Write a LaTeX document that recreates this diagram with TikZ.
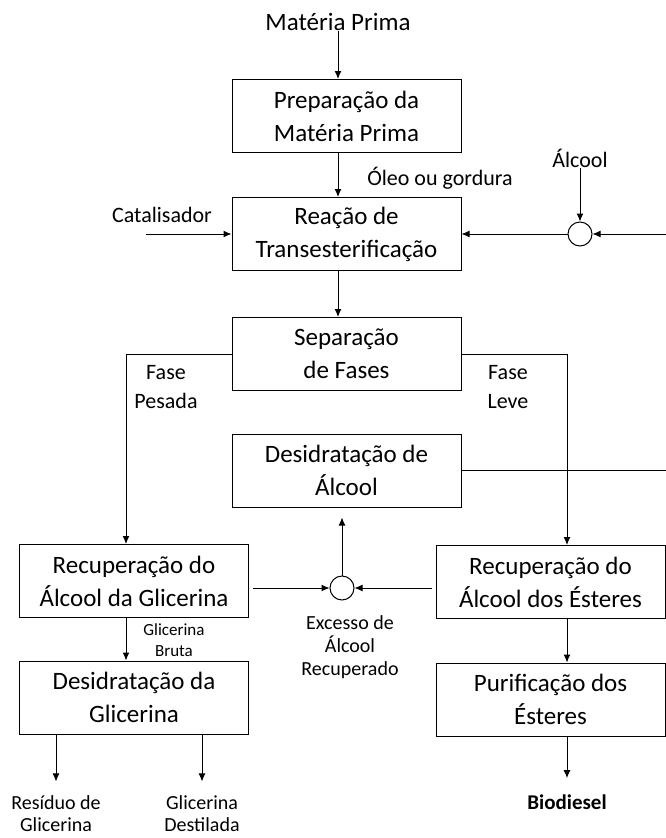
\documentclass[tikz,border=0pt]{standalone}
\usepackage{fontspec}
\setmainfont{Carlito}
\usetikzlibrary{positioning,arrows.meta}
\tikzset{
	>={Latex[length=8pt,width=7pt]}
}

\begin{document}
\begin{tikzpicture}[
	x = 1pt, y = -1pt,
	line width = 1pt,
	every node/.style = {
		font = \fontsize{22}{27}\selectfont,
		align = center,
		inner sep = 0pt
	},
	process/.style = {
		draw,
		font = \fontsize{25}{33}\selectfont,
		minimum width = 229pt,
		minimum height = 73pt
	},
	mixer/.style = {
		draw,
		circle,
		minimum size = 24pt
	},
	tiny/.style = {
		font = \fontsize{17}{21}\selectfont
	},
	product/.style = {
		font = \fontsize{20}{23}\selectfont
	}
	]
	\useasboundingbox (0,0) rectangle (666,838);
	\coordinate (rimR) at (666,0);
	
	% central column
	\node (mp) [font=\fontsize{25}{30}\selectfont] at (338,22) {Matéria Prima};
	\node (prep) [process] at (346.5,116) {Preparação da\\Matéria Prima};
	\node (reac) [process] at (346.5,234) {Reação de\\Transesterificação};
	\node (sep) [process] at (346.5,354) {Separação\\de Fases};
	\node (desalc) [process] at (346.5,470.5) {Desidratação de\\Álcool};
	
	\node (oleo) at (440,178) {Óleo ou gordura};
	\node (cat) at (162,215) {Catalisador};
	\coordinate (catin) at (146,234);
	\node (alc) at (580,158) {Álcool};
	\node (mixA) [mixer] at (580,234) {};
	
	% left column
	\node (recgli) [process] at (134,581) {Recuperação do\\Álcool da Glicerina};
	\node (desgli) [process] at (134,697.5) {Desidratação da\\Glicerina};
	\node (pesada) at (166,387.5) {Fase\\[2pt]Pesada};
	\node (bruta) [tiny] at (174,640) {Glicerina\\Bruta};
	\node (res) [product] at (56,814) {Resíduo de\\[-1pt]Glicerina};
	\node (dest) [product] at (202,814) {Glicerina\\[-1pt]Destilada};
	
	% right column
	\node (recest) [process] at (550.5,582) {Recuperação do\\Álcool dos Ésteres};
	\node (purif) [process] at (550.5,699.5) {Purificação dos\\Ésteres};
	\node (leve) at (508,387.5) {Fase\\[2pt]Leve};
	\node (bio) [font=\fontsize{21}{24}\selectfont\bfseries] at (567,802) {Biodiesel};
	
	% recovered alcohol
	\node (mixB) [mixer] at (342,588) {};
	\node (exc) [product] at (350,647) {Excesso de\\Álcool\\Recuperado};
	
	\draw[->] (mp) -- (prep.north -| mp);
	\draw[->] (prep.south -| mp) -- (reac.north -| mp);
	\draw[->] (reac.south -| mp) -- (sep.north -| mp);
	\draw[->] (catin) -- (reac.west |- catin);
	\draw[->] (alc) -- (mixA);
	\draw[->] (mixA -| rimR) -- (mixA);
	\draw[->] (mixA) -- (reac.east |- mixA);
	
	\draw[->] (sep.west) -| ([xshift=-8pt]recgli.north);
	\draw[->] (sep.east) -| ([xshift=16.5pt]recest.north);
	\draw (desalc.east) -- (desalc.east -| rimR);
	
	\draw[->, shorten <=4pt] (recgli.east |- mixB) -- (mixB);
	\draw[->, shorten <=4pt] (recest.west |- mixB) -- (mixB);
	\draw[->, shorten >=10pt] (mixB) -- (desalc.south -| mixB);
	
	\draw[->] ([xshift=-8pt]recgli.south) -- ([xshift=-8pt]desgli.north);
	\draw[->, shorten >=14pt] (desgli.south -| res) -- (res);
	\draw[->, shorten >=14pt] (desgli.south -| dest) -- (dest);
	\draw[->] ([xshift=16.5pt]recest.south) -- ([xshift=16.5pt]purif.north);
	\draw[->, shorten >=16pt] ([xshift=16.5pt]purif.south) -- (bio);
\end{tikzpicture}
\end{document}
